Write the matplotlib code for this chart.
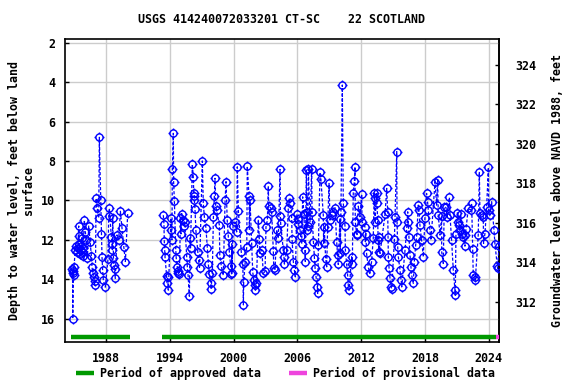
import numpy as np
import matplotlib
matplotlib.use("Agg")
import matplotlib.pyplot as plt
from matplotlib.path import Path
from matplotlib.lines import Line2D

# ---------------- data ----------------
title = "USGS 414240072033201 CT-SC    22 SCOTLAND"
ylabel_left = "Depth to water level, feet below land\nsurface"
ylabel_right = "Groundwater level above NAVD 1988, feet"
xticks = [1988, 1994, 2000, 2006, 2012, 2018, 2024]
yticks_left = [2, 4, 6, 8, 10, 12, 14, 16]
yticks_right = [312, 314, 316, 318, 320, 322, 324]
land_surface = 327.13

years = [
    1984.80, 1984.85, 1984.87, 1984.92, 1984.95, 1984.98,
    1985.11, 1985.20, 1985.27, 1985.35, 1985.43, 1985.46, 1985.50, 1985.55, 1985.60,
    1985.65, 1985.70, 1985.75, 1985.80, 1985.85, 1985.96, 1986.05, 1986.15, 1986.25,
    1986.37, 1986.50, 1986.62, 1986.68, 1986.78, 1986.85, 1986.94, 1987.00, 1987.06,
    1987.18, 1987.31, 1987.37, 1987.50, 1987.56, 1987.62, 1987.68, 1987.75, 1987.93,
    1988.19, 1988.25, 1988.31, 1988.50, 1988.56, 1988.60, 1988.63, 1988.70, 1988.75,
    1988.80, 1988.87, 1989.03, 1989.19, 1989.35, 1989.50, 1989.67, 1989.82, 1990.04,
    # 1993 - 2000
    1993.39, 1993.45, 1993.48, 1993.52, 1993.55, 1993.70, 1993.74, 1993.80, 1993.86,
    1994.11, 1994.15, 1994.20, 1994.24, 1994.33, 1994.36, 1994.43, 1994.56, 1994.60,
    1994.70, 1994.75, 1994.80, 1994.90, 1995.00, 1995.05, 1995.12, 1995.20, 1995.30,
    1995.40, 1995.59, 1995.65, 1995.72, 1995.84, 1995.90, 1995.95, 1996.12, 1996.21,
    1996.25, 1996.30, 1996.31, 1996.37, 1996.45, 1996.63, 1996.70, 1996.80, 1997.06,
    1997.15, 1997.25, 1997.40, 1997.53, 1997.62, 1997.72, 1997.85, 1997.88, 1998.00,
    1998.10, 1998.19, 1998.25, 1998.32, 1998.40, 1998.66, 1998.70, 1998.85, 1999.03,
    1999.20, 1999.29, 1999.40, 1999.50, 1999.60, 1999.73, 1999.80, 1999.83, 1999.85,
    1999.95,
    # 2000 - 2007
    2000.14, 2000.29, 2000.35, 2000.45, 2000.72, 2000.87, 2000.92, 2000.95, 2001.10,
    2001.24, 2001.29, 2001.45, 2001.48, 2001.55, 2001.70, 2001.80, 2001.90, 2001.98,
    2002.05, 2002.15, 2002.33, 2002.43, 2002.49, 2002.65, 2002.80, 2002.96, 2003.05,
    2003.18, 2003.27, 2003.30, 2003.49, 2003.58, 2003.74, 2003.78, 2003.90, 2004.05,
    2004.21, 2004.37, 2004.40, 2004.43, 2004.68, 2004.74, 2004.78, 2005.00, 2005.15,
    2005.25, 2005.31, 2005.47, 2005.50, 2005.62, 2005.72, 2005.81, 2005.94, 2006.03,
    2006.10, 2006.25, 2006.31, 2006.41, 2006.50, 2006.62, 2006.72, 2006.75, 2006.85,
    2006.88, 2006.94, 2006.97,
    # 2007 - 2013.7
    2007.03, 2007.19, 2007.35, 2007.38, 2007.51, 2007.60, 2007.67, 2007.76, 2007.88,
    2007.91, 2007.98, 2008.13, 2008.22, 2008.44, 2008.47, 2008.53, 2008.66, 2008.76,
    2008.85, 2008.98, 2009.07, 2009.23, 2009.38, 2009.54, 2009.70, 2009.79, 2009.85,
    2010.00, 2010.04, 2010.10, 2010.23, 2010.32, 2010.48, 2010.52, 2010.64, 2010.73,
    2010.79, 2010.88, 2011.10, 2011.17, 2011.26, 2011.36, 2011.42, 2011.45, 2011.58,
    2011.62, 2011.73, 2011.89, 2012.05, 2012.08, 2012.36, 2012.40, 2012.45, 2012.51,
    2012.67, 2012.82, 2012.98, 2013.14, 2013.23, 2013.27, 2013.30, 2013.47, 2013.50,
    2013.56, 2013.61, 2013.67, 2013.68, 2013.78,
    # 2014 - 2019.8
    2014.25, 2014.41, 2014.50, 2014.53, 2014.56, 2014.63, 2014.72, 2014.81, 2014.88,
    2015.13, 2015.19, 2015.35, 2015.38, 2015.44, 2015.50, 2015.66, 2015.75, 2015.82,
    2016.13, 2016.29, 2016.38, 2016.44, 2016.50, 2016.60, 2016.69, 2016.75, 2016.91,
    2017.00, 2017.13, 2017.22, 2017.38, 2017.44, 2017.53, 2017.69, 2017.85, 2018.00,
    2018.16, 2018.25, 2018.32, 2018.47, 2018.57, 2018.95, 2019.10, 2019.20, 2019.26,
    2019.42, 2019.57, 2019.58, 2019.73, 2019.82,
    # 2020 - 2025
    2019.98, 2020.10, 2020.30, 2020.36, 2020.51, 2020.67, 2020.83, 2020.86, 2020.92,
    2021.05, 2021.14, 2021.23, 2021.30, 2021.36, 2021.46, 2021.61, 2021.77, 2021.80,
    2021.86, 2022.08, 2022.30, 2022.40, 2022.49, 2022.55, 2022.71, 2022.74, 2023.02,
    2023.12, 2023.18, 2023.33, 2023.49, 2023.52, 2023.65, 2023.81, 2023.97, 2024.00,
    2024.12, 2024.28, 2024.50, 2024.59, 2024.81, 2024.84, 2024.97,
]

depths = [
    13.5, 13.7, 16.0, 13.6, 13.8, 13.4,
    12.5, 12.3, 12.6, 12.4, 11.3, 11.8, 12.2, 12.7, 12.5,
    12.3, 11.9, 12.6, 12.8, 12.4, 11.0, 11.6, 12.0, 12.9,
    11.3, 12.1, 12.8, 13.4, 13.7, 13.9, 14.3, 14.1, 9.9,
    10.4, 10.9, 6.8, 10.0, 11.7, 12.85, 13.55, 14.05, 14.4,
    12.95, 10.8, 10.4, 11.85, 12.2, 12.5, 10.9, 12.9, 13.3,
    13.5, 13.95, 11.75, 12.0, 10.55, 11.4, 12.35, 13.1, 10.65,
    # 1993 - 2000
    10.75, 11.2, 12.07, 12.5, 12.86, 13.84, 14.2, 13.9, 14.55,
    10.9, 11.5, 12.0, 8.43, 6.6, 9.09, 10.04, 12.5, 12.9,
    13.4, 13.6, 13.7, 13.75, 10.9, 11.7, 10.67, 11.0, 11.3,
    11.1, 12.86, 13.4, 13.8, 14.86, 11.9, 12.4, 8.16, 8.83,
    9.6, 9.8, 10.0, 10.45, 11.5, 12.6, 13.0, 13.45, 8.0,
    10.15, 10.83, 11.4, 12.4, 13.2, 13.74, 14.2, 14.5, 13.7,
    10.85, 9.8, 8.88, 10.3, 10.5, 11.25, 12.78, 13.35, 13.8,
    10.0, 9.05, 11.0, 11.8, 12.6, 13.35, 13.75, 12.2, 13.7,
    11.3,
    # 2000 - 2007
    11.1, 11.6, 8.3, 10.55, 12.6, 13.2, 15.3, 14.13, 13.1,
    12.36, 8.26, 9.8, 11.5, 10.0, 12.18, 13.62, 14.05, 14.3,
    14.55, 14.2, 10.97, 11.98, 12.69, 12.5, 13.7, 13.6, 11.34,
    11.0, 9.27, 10.3, 10.37, 10.58, 12.55, 13.45, 13.55, 11.5,
    11.93, 8.43, 10.78, 11.17, 12.52, 12.86, 13.23, 12.52, 10.4,
    9.9, 10.15, 10.9, 11.95, 13.1, 13.54, 13.88, 10.7, 10.95,
    11.2, 11.5, 11.8, 12.2, 9.82, 10.7, 12.5, 13.1, 8.46,
    11.51, 10.6, 11.3,
    # 2007 - 2013.7
    8.4, 11.08, 8.4, 10.58, 12.1, 12.91, 13.45, 13.88, 14.39,
    14.72, 12.27, 8.58, 8.94, 10.75, 12.18, 11.34, 12.95, 13.37,
    11.34, 9.14, 11.0, 10.75, 10.58, 10.37, 12.1, 12.78, 13.25,
    10.92, 12.69, 10.58, 4.15, 10.12, 11.3, 12.52, 13.25, 13.79,
    14.3, 14.55, 12.86, 13.2, 9.65, 9.02, 8.29, 11.1, 11.68,
    11.73, 10.29, 10.83, 9.68, 11.08, 11.34, 12.1, 11.68, 12.69,
    13.37, 13.7, 13.12, 11.93, 9.65, 9.9, 11.08, 9.65, 10.15,
    11.0, 12.02, 12.61, 11.85, 12.69,
    # 2014 - 2019.8
    10.7, 9.39, 10.58, 11.85, 12.86, 13.45, 13.96, 14.39, 14.47,
    11.98, 10.83, 7.53, 11.08, 12.36, 12.86, 13.54, 14.05, 14.39,
    12.52, 11.42, 10.58, 11.08, 11.88, 12.78, 13.37, 13.79, 14.21,
    13.12, 12.27, 11.85, 10.24, 10.49, 11.25, 12.02, 12.86, 10.91,
    9.65, 10.07, 10.49, 11.51, 12.02, 9.06, 10.24, 8.97, 10.75,
    11.76, 10.8, 12.61, 13.2, 10.32,
    # 2020 - 2025
    10.36, 10.83, 9.85, 10.75, 12.02, 13.54, 14.55, 14.81, 11.71,
    10.63, 11.08, 11.25, 11.51, 10.7, 11.68, 11.85, 12.32, 11.76,
    11.47, 10.41, 10.49, 10.15, 12.44, 13.79, 13.88, 14.05, 11.73,
    8.55, 10.63, 10.75, 10.83, 12.18, 11.68, 10.32, 8.33, 10.49,
    10.75, 10.07, 11.51, 12.22, 13.34, 13.45, 12.32,
]

approved_periods = [(1984.66, 1990.22), (1993.24, 2024.65)]
provisional_periods = [(2024.65, 2024.97)]
period_bar_depth = 16.95

# ---------------- styling ----------------
FONT = "DejaVu Sans Mono"
plt.rcParams["font.family"] = [FONT]
plt.rcParams["font.weight"] = "bold"
FS = 8.4
GREEN = "#009900"
PINK = "#ee44dd"

fig = plt.figure(figsize=(5.76, 3.84), dpi=100)
ax = fig.add_axes([0.1123, 0.1094, 0.8663 - 0.1123, 0.8977 - 0.1094])

order = np.argsort(years)
yrs = np.asarray(years)[order]
dep = np.asarray(depths)[order]

# connecting lines, broken at large gaps
lx, ly = [yrs[0]], [dep[0]]
for i in range(1, len(yrs)):
    if yrs[i] - yrs[i - 1] > 2.0:
        lx.append(np.nan)
        ly.append(np.nan)
    lx.append(yrs[i])
    ly.append(dep[i])
ax.plot(lx, ly, color="blue", lw=0.9, ls=(0, (2.5, 1.5)), zorder=3)

# USGS style marker: open circle with four outer ticks
circ = Path.unit_circle()
tv = [(0, 1), (0, 1.4), (0, -1), (0, -1.4), (1, 0), (1.4, 0), (-1, 0), (-1.4, 0)]
tc = [Path.MOVETO, Path.LINETO] * 4
marker = Path.make_compound_path(circ, Path(tv, tc))
ax.plot(yrs, dep, ls="none", marker=marker, ms=7.2, mfc="none", mec="blue",
        mew=1.0, zorder=4)

for a, b in approved_periods:
    ax.plot([a, b], [period_bar_depth, period_bar_depth], color=GREEN, lw=3.2,
            solid_capstyle="butt", zorder=5)
for a, b in provisional_periods:
    ax.plot([a, b], [period_bar_depth, period_bar_depth], color=PINK, lw=3.2,
            solid_capstyle="butt", zorder=5)

ax.set_xlim(1984.11, 2024.97)
ax.set_ylim(17.18, 1.83)
ax.set_xticks(xticks)
ax.set_xticklabels([str(t) for t in xticks])
ax.set_yticks(yticks_left)
ax.grid(True, color="#cccccc", lw=1.0, zorder=0)
ax.set_axisbelow(True)
ax.tick_params(direction="in", length=3, width=1, labelsize=FS, pad=7)
for lab in ax.get_xticklabels() + ax.get_yticklabels():
    lab.set_fontweight("bold")
for s in ax.spines.values():
    s.set_linewidth(1.2)

sec = ax.secondary_yaxis("right", functions=(lambda d: land_surface - d,
                                             lambda e: land_surface - e))
sec.set_yticks(yticks_right)
sec.tick_params(direction="in", length=3, width=1, labelsize=FS, pad=12)
for lab in sec.get_yticklabels():
    lab.set_fontweight("bold")
sec.spines["right"].set_linewidth(1.2)

ax.set_ylabel(ylabel_left, fontsize=FS, fontweight="bold", labelpad=4,
              linespacing=1.1)
sec.set_ylabel(ylabel_right, fontsize=FS, fontweight="bold", labelpad=10)

fig.text(0.489, 0.950, title, ha="center", va="center", fontsize=FS,
         fontweight="bold")

handles = [Line2D([], [], color=GREEN, lw=3.2, solid_capstyle="butt"),
           Line2D([], [], color=PINK, lw=3.2, solid_capstyle="butt")]
fig.legend(handles, ["Period of approved data", "Period of provisional data"],
           loc="center", bbox_to_anchor=(0.496, 0.028), ncol=2, frameon=False,
           fontsize=FS, handlelength=1.55, handletextpad=0.5,
           columnspacing=2.4, prop={"family": FONT, "weight": "bold", "size": FS})

fig.savefig("out.png", dpi=100)
